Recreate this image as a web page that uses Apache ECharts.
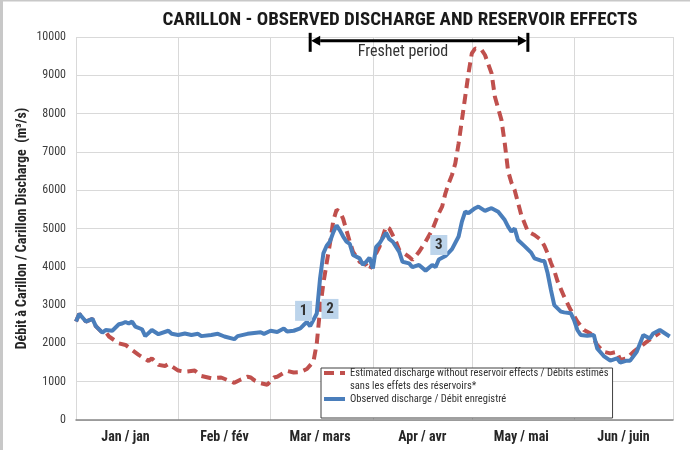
<!DOCTYPE html>
<html>
<head>
<meta charset="utf-8">
<script src="https://cdn.jsdelivr.net/npm/echarts@6/dist/echarts.min.js"></script>
<style>
  html, body { margin: 0; padding: 0; background: #fff; }
  #chart { width: 690px; height: 450px; }
</style>
</head>
<body>
<div id="chart"></div>
<script>
var FONT = "'Liberation Sans Narrow', 'Roboto Condensed', Roboto, sans-serif";

// day 0 = Jan 1, day 181 = Jul 1
var DAYS = [];
for (var d = 0; d <= 181; d++) DAYS.push(d);
var MONTH_STARTS = [0, 31, 59, 90, 120, 151, 181];
var LABEL_DAYS = [15, 45, 74, 105, 135, 166];
var MONTH_LABELS = ['Jan / jan', 'Feb / fév', 'Mar / mars', 'Apr / avr', 'May / mai', 'Jun / juin'];

var EST_NAME = 'Estimated discharge without reservoir effects / Débits estimés\nsans les effets des réservoirs*';
var OBS_NAME = 'Observed discharge / Débit enregistré';

// [day, m3/s]
var observed = [[0,2570],[1,2770],[3,2570],[5,2640],[6,2450],[8,2280],[9,2350],[11,2330],[13,2500],[14,2520],
  [15,2560],[16,2520],[17,2570],[18,2440],[20,2370],[21,2190],[23,2350],[25,2240],[28,2330],[29,2250],
  [31,2220],[33,2260],[35,2220],[37,2250],[38,2190],[41,2220],[43,2250],[45,2180],[48,2110],[49,2190],
  [52,2250],[54,2270],[56,2290],[57,2250],[59,2330],[61,2300],[63,2390],[64,2310],[66,2330],[68,2390],
  [69,2480],[70,2560],[71,2450],[73,2780],[74,3700],[75,4350],[76,4550],[77,4660],[78,4900],[79,5080],
  [80,4950],[81,4790],[82,4660],[83,4600],[84,4310],[86,4220],[87,4050],[88,4130],[89,4240],[90,3960],
  [91,4520],[92,4610],[94,4890],[95,4720],[96,4660],[98,4390],[99,4130],[101,4090],[102,3990],[104,4050],
  [106,3900],[108,4050],[109,3990],[110,4190],[112,4280],[114,4460],[116,4790],[117,5180],[118,5440],[119,5400],
  [121,5530],[122,5570],[124,5460],[125,5500],[126,5530],[128,5440],[130,5220],[131,5050],[132,4920],[133,5000],
  [134,4700],[136,4540],[138,4370],[139,4220],[141,4160],[142,4150],[143,3830],[144,3390],[145,3000],[147,2830],
  [148,2810],[150,2790],[151,2610],[152,2350],[153,2220],[155,2200],[157,2220],[158,1870],[160,1670],[161,1610],
  [162,1550],[164,1610],[165,1500],[167,1550],[168,1550],[170,1780],[171,2000],[172,2220],[174,2130],[175,2260],
  [177,2350],[180,2180]];

var estimated = [[0,2570],[1,2770],[3,2570],[5,2640],[6,2450],[8,2280],[9,2300],[10,2180],[13,2000],[15,1960],
  [17,1830],[19,1700],[22,1540],[23,1610],[25,1440],[27,1410],[28,1460],[31,1290],[33,1260],[36,1290],
  [38,1150],[41,1090],[44,1110],[46,1040],[48,970],[50,1060],[52,1130],[53,1110],[54,1040],[56,960],
  [58,920],[60,1110],[61,1130],[64,1280],[66,1240],[68,1250],[70,1330],[72,1530],[73,2000],[74,2900],
  [75,3570],[76,4100],[77,4610],[78,5200],[79,5490],[80,5440],[81,5250],[82,4950],[83,4660],[84,4390],
  [86,4130],[88,4050],[89,3920],[90,4100],[91,4350],[92,4520],[94,5050],[95,5000],[97,4660],[98,4440],
  [101,4260],[102,4180],[104,4390],[106,4660],[108,4960],[110,5400],[111,5570],[112,5920],[113,6180],[114,6400],
  [115,6700],[116,7220],[117,7830],[118,8440],[119,9050],[120,9570],[121,9700],[123,9660],[124,9530],[126,9050],
  [127,8440],[129,7830],[130,7220],[131,6500],[132,6200],[133,6000],[135,5350],[137,4920],[139,4830],[141,4700],
  [142,4550],[143,4350],[144,4100],[145,3900],[146,3620],[148,3220],[150,2870],[152,2570],[154,2350],[156,2260],
  [158,1960],[160,1780],[162,1740],[164,1780],[165,1570],[167,1610],[169,1780],[171,1910],[173,2040],[175,2160],
  [177,2280]];

// numbered notes: [label, day, m3/s]
var NOTES = [['1', 69, 2850], ['2', 77, 2900], ['3', 110, 4570]];
// freshet period: start day, end day, level
var FRESHET = [71, 137, 9900];

var chart = echarts.init(document.getElementById('chart'));

var option = {
  animation: false,
  grid: { left: 76, right: 17, top: 37, bottom: 30 },
  xAxis: {
    type: 'category',
    data: DAYS,
    boundaryGap: false,
    axisLine: { lineStyle: { color: '#868686', width: 1.5 } },
    axisTick: { show: false },
    axisLabel: {
      interval: function (i) { return LABEL_DAYS.indexOf(i) >= 0; },
      formatter: function (v, i) { return MONTH_LABELS[LABEL_DAYS.indexOf(i)]; },
      fontFamily: FONT, fontWeight: 'bold', fontSize: 14, color: '#262626', margin: 10
    },
    splitLine: {
      show: true,
      interval: function (i) { return MONTH_STARTS.indexOf(i) >= 0; },
      lineStyle: { color: '#d9d9d9' }
    }
  },
  yAxis: {
    type: 'value',
    min: 0, max: 10000, interval: 1000,
    name: 'Débit à Carillon / Carillon Discharge  (m³/s)',
    nameLocation: 'middle',
    nameGap: 47,
    nameMoveOverlap: false,
    nameTextStyle: { fontFamily: FONT, fontWeight: 'bold', fontSize: 14, color: '#262626' },
    axisLine: { show: false },
    axisTick: { show: false },
    axisLabel: {
      formatter: function (v) { return String(v); },
      fontFamily: FONT, fontSize: 12, color: '#404040', margin: 10
    },
    splitLine: { lineStyle: { color: '#d9d9d9' } }
  },
  legend: {
    orient: 'vertical',
    left: 321, top: 368,
    padding: [-14.5, 4, 12.5, 1],
    itemGap: 0,
    itemWidth: 21, itemHeight: 10,
    backgroundColor: '#fff',
    borderColor: '#404040', borderWidth: 1,
    itemStyle: { opacity: 0 },
    lineStyle: { width: 4 },
    textStyle: { fontFamily: FONT, fontSize: 10.5, color: '#333', lineHeight: 13 },
    formatter: function (name) { return name === EST_NAME ? '\n' + name : name; },
    data: [EST_NAME, OBS_NAME]
  },
  series: [
    {
      name: EST_NAME,
      type: 'line',
      data: estimated,
      symbol: 'none',
      z: 2,
      lineStyle: { color: '#c0504d', width: 4, type: [10, 6] },
      itemStyle: { color: '#c0504d' }
    },
    {
      name: OBS_NAME,
      type: 'line',
      data: observed,
      symbol: 'none',
      z: 3,
      lineStyle: { color: '#4a7ebb', width: 4 },
      itemStyle: { color: '#4a7ebb' },
      markPoint: {
        symbol: 'rect',
        symbolSize: [17, 20],
        itemStyle: { color: '#bcd4eb' },
        label: { show: true, formatter: '{b}', fontFamily: FONT, fontWeight: 'bold', fontSize: 15, color: '#333' },
        data: NOTES.map(function (n) { return { name: n[0], coord: [n[1], n[2]] }; })
      }
    }
  ]
};
chart.setOption(option);

// title, freshet arrow and frame
var a = chart.convertToPixel({ xAxisIndex: 0, yAxisIndex: 0 }, [FRESHET[0], FRESHET[2]]);
var b = chart.convertToPixel({ xAxisIndex: 0, yAxisIndex: 0 }, [FRESHET[1], FRESHET[2]]);
var ah = 10, aw = 5;
chart.setOption({
  graphic: [
    { type: 'line', shape: { x1: 0, y1: 0.5, x2: 690, y2: 0.5 }, style: { stroke: '#c8c8c8', lineWidth: 2 } },
    { type: 'line', shape: { x1: 1.5, y1: 0, x2: 1.5, y2: 450 }, style: { stroke: '#c8c8c8', lineWidth: 3 } },
    { type: 'text', x: 400, y: 20, style: { text: 'CARILLON - OBSERVED DISCHARGE AND RESERVOIR EFFECTS', font: 'bold 19px ' + FONT, fill: '#1a1a1a', align: 'center', verticalAlign: 'middle' } },
    { type: 'line', shape: { x1: a[0] + ah, y1: a[1], x2: b[0] - ah, y2: b[1] }, style: { stroke: '#000', lineWidth: 3 } },
    { type: 'polygon', shape: { points: [[a[0] + 1, a[1]], [a[0] + ah, a[1] - aw], [a[0] + ah, a[1] + aw]] }, style: { fill: '#000' } },
    { type: 'polygon', shape: { points: [[b[0] - 1, b[1]], [b[0] - ah, b[1] - aw], [b[0] - ah, b[1] + aw]] }, style: { fill: '#000' } },
    { type: 'line', shape: { x1: a[0], y1: a[1] - 8, x2: a[0], y2: a[1] + 11 }, style: { stroke: '#000', lineWidth: 3 } },
    { type: 'line', shape: { x1: b[0], y1: b[1] - 8, x2: b[0], y2: b[1] + 11 }, style: { stroke: '#000', lineWidth: 3 } },
    { type: 'text', x: (a[0] + b[0]) / 2 - 16, y: a[1] + 11, style: { text: 'Freshet period', font: '16px ' + FONT, fill: '#333', align: 'center', verticalAlign: 'middle' } }
  ]
});
</script>
</body>
</html>
